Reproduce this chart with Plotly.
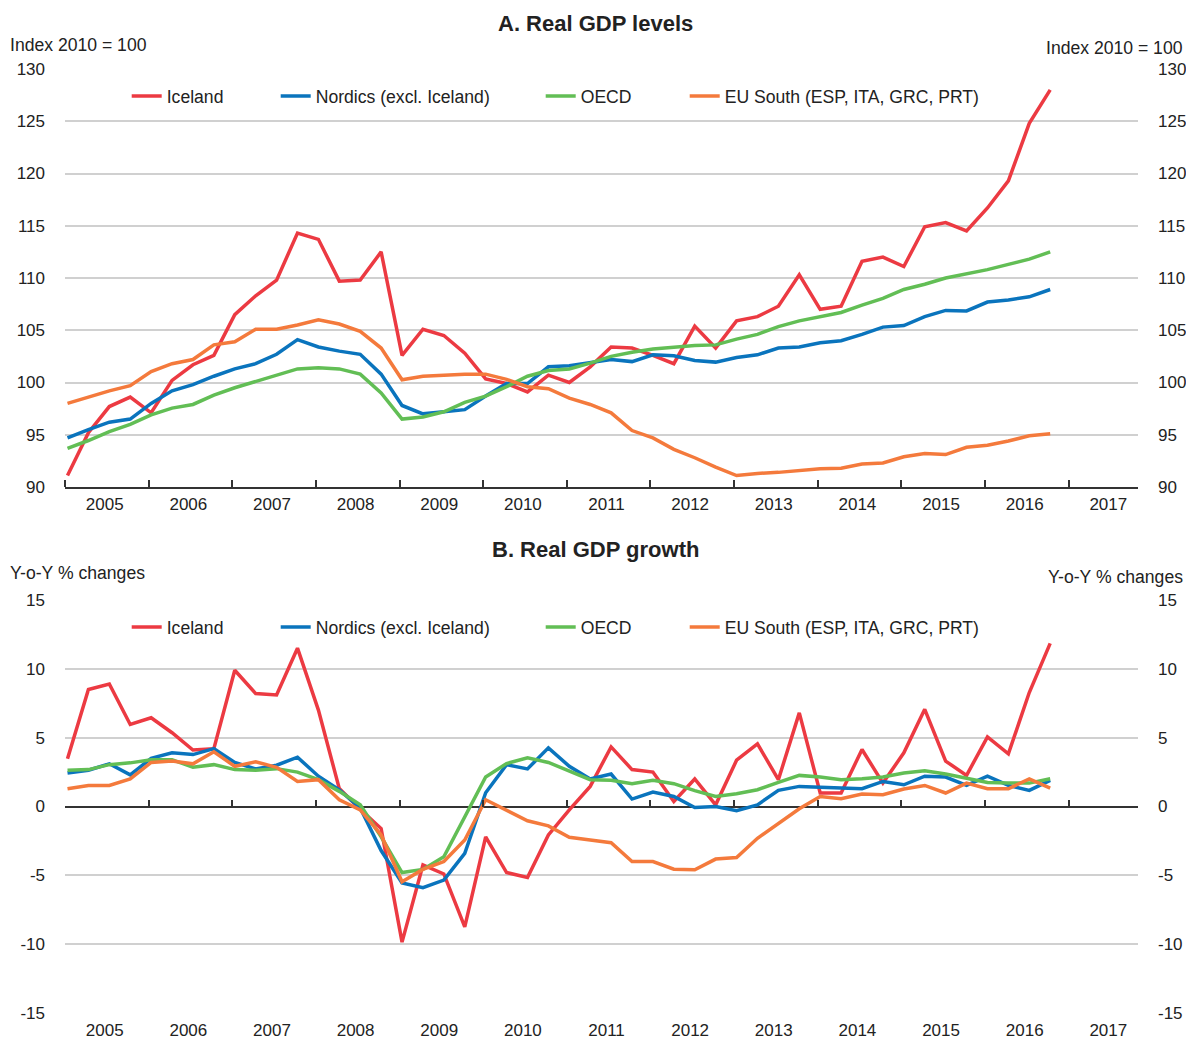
import plotly.graph_objects as go

# ---------------- data ----------------
years = list(range(2005, 2017))
quarters = [1, 2, 3, 4]

iceland_lvl = [91.1, 95.2, 97.7, 98.6,
               97.1, 100.2, 101.7, 102.6,
               106.5, 108.3, 109.8, 114.3,
               113.7, 109.7, 109.8, 112.5,
               102.6, 105.1, 104.5, 102.8,
               100.35, 99.9, 99.1, 100.7,
               100.0, 101.5, 103.4, 103.3,
               102.6, 101.8, 105.4, 103.3,
               105.9, 106.3, 107.3, 110.3,
               107.0, 107.3, 111.6, 112.0,
               111.1, 114.9, 115.3, 114.5,
               116.7, 119.3, 124.8, 128.0]
nordics_lvl = [94.7, 95.5, 96.2, 96.5,
               98.0, 99.2, 99.8, 100.6,
               101.3, 101.8, 102.7, 104.1,
               103.4, 103.0, 102.7, 100.8,
               97.8, 97.0, 97.2, 97.4,
               98.7, 99.9, 99.9, 101.5,
               101.6, 101.9, 102.2, 102.0,
               102.65, 102.55, 102.1, 101.95,
               102.4, 102.65, 103.3, 103.4,
               103.8, 104.0, 104.6, 105.3,
               105.45, 106.3, 106.9, 106.85,
               107.7, 107.9, 108.2, 108.9]
oecd_lvl = [93.7, 94.45, 95.3, 96.0,
            96.9, 97.55, 97.9, 98.8,
            99.5, 100.1, 100.65, 101.3,
            101.4, 101.3, 100.8, 99.0,
            96.5, 96.7, 97.2, 98.1,
            98.7, 99.6, 100.6, 101.15,
            101.3, 101.85, 102.5, 102.9,
            103.2, 103.4, 103.55, 103.6,
            104.15, 104.6, 105.35, 105.9,
            106.3, 106.7, 107.4, 108.05,
            108.9, 109.4, 110.0, 110.4,
            110.8, 111.3, 111.8, 112.5]
eusouth_lvl = [98.0, 98.6, 99.2, 99.7,
               101.05, 101.8, 102.2, 103.6,
               103.9, 105.1, 105.1, 105.5,
               106.0, 105.6, 104.9, 103.3,
               100.26, 100.6, 100.7, 100.8,
               100.8, 100.3, 99.6, 99.4,
               98.5, 97.9, 97.1, 95.4,
               94.7, 93.6, 92.8, 91.9,
               91.1, 91.3, 91.4, 91.6,
               91.75, 91.8, 92.2, 92.3,
               92.9, 93.2, 93.1, 93.8,
               94.0, 94.4, 94.9, 95.1]

iceland_gr = [3.46, 8.5, 8.9, 5.96,
              6.45, 5.36, 4.1, 4.2,
              9.9, 8.2, 8.1, 11.5,
              7.0, 1.3, -0.2, -1.6,
              -9.85, -4.25, -4.9, -8.75,
              -2.2, -4.8, -5.15, -2.07,
              -0.24, 1.46, 4.33, 2.68,
              2.5, 0.36, 2.0, 0.12,
              3.36, 4.55, 1.95, 6.8,
              0.98, 0.98, 4.14, 1.7,
              3.9, 7.06, 3.3, 2.26,
              5.06, 3.82, 8.28, 11.85]
nordics_gr = [2.44, 2.63, 3.1, 2.3,
              3.5, 3.9, 3.77, 4.2,
              3.2, 2.73, 3.0, 3.58,
              2.2, 1.2, -0.1, -3.2,
              -5.55, -5.9, -5.35, -3.4,
              1.0, 3.04, 2.73, 4.26,
              2.92, 2.0, 2.36, 0.54,
              1.05, 0.73, -0.07, 0.0,
              -0.3, 0.12, 1.17, 1.46,
              1.39, 1.34, 1.29, 1.82,
              1.58, 2.2, 2.14, 1.53,
              2.2, 1.53, 1.17, 1.9]
oecd_gr = [2.63, 2.68, 3.04, 3.17,
           3.4, 3.4, 2.85, 3.04,
           2.68, 2.63, 2.75, 2.5,
           1.95, 1.1, 0.12, -2.2,
           -4.8, -4.57, -3.65, -0.8,
           2.14, 3.12, 3.53, 3.2,
           2.55, 1.95, 1.9, 1.66,
           1.9, 1.66, 1.15, 0.73,
           0.93, 1.22, 1.75, 2.26,
           2.14, 1.95, 2.02, 2.14,
           2.44, 2.6, 2.36, 2.07,
           1.75, 1.7, 1.7, 2.02]
eusouth_gr = [1.29, 1.53, 1.53, 2.0,
              3.2, 3.3, 3.1, 3.97,
              2.92, 3.24, 2.85, 1.82,
              1.95, 0.49, -0.24, -2.07,
              -5.47, -4.57, -4.0, -2.43,
              0.49, -0.29, -1.04, -1.41,
              -2.24, -2.43, -2.63, -4.0,
              -4.0, -4.55, -4.6, -3.82,
              -3.7, -2.31, -1.21, -0.17,
              0.73, 0.56, 0.9, 0.85,
              1.27, 1.53, 0.98, 1.7,
              1.29, 1.29, 2.0, 1.34]

series_names = ["Iceland", "Nordics (excl. Iceland)", "OECD", "EU South (ESP, ITA, GRC, PRT)"]
colors = ["#EC3A42", "#0A74BD", "#62BE55", "#F47A3C"]
year_labels = [str(y) for y in range(2005, 2018)]
lvl_ticks = list(range(90, 131, 5))
gr_ticks = list(range(-15, 16, 5))
gr_ticktext = [str(v) for v in gr_ticks]  # plain hyphen-minus as in the reference

# quarterly positions (fractional years)
x = [y + (q - 1) / 4 + 0.03 for y in years for q in quarters]

FONT = "Liberation Sans, Arial, Helvetica, sans-serif"
TXT = "#222222"
GRID = "#D0D0D0"
AXIS = "#333333"

fig = go.Figure()

lvl = [iceland_lvl, nordics_lvl, oecd_lvl, eusouth_lvl]
gr = [iceland_gr, nordics_gr, oecd_gr, eusouth_gr]
legA = ["legend", "legend3", "legend4", "legend5"]
legB = ["legend2", "legend6", "legend7", "legend8"]
for name, c, v, lg in zip(series_names, colors, lvl, legA):
    fig.add_trace(go.Scatter(x=x, y=v, name=name, mode="lines",
                             line=dict(color=c, width=3.5),
                             xaxis="x", yaxis="y", legend=lg))
for name, c, v, lg in zip(series_names, colors, gr, legB):
    fig.add_trace(go.Scatter(x=x, y=v, name=name, mode="lines",
                             line=dict(color=c, width=3.5),
                             xaxis="x2", yaxis="y2", legend=lg))

# invisible helper traces so the mirrored right axes and the zero-line tick axis get drawn
fig.add_trace(go.Scatter(x=x, y=iceland_lvl, mode="lines", line=dict(width=0), opacity=0,
                         showlegend=False, hoverinfo="skip", xaxis="x", yaxis="y3"))
fig.add_trace(go.Scatter(x=x, y=iceland_gr, mode="lines", line=dict(width=0), opacity=0,
                         showlegend=False, hoverinfo="skip", xaxis="x2", yaxis="y4"))
fig.add_trace(go.Scatter(x=x, y=iceland_gr, mode="lines", line=dict(width=0), opacity=0,
                         showlegend=False, hoverinfo="skip", xaxis="x4", yaxis="y2"))

XR = [2005, 2017.83]
label_pos = [y + 0.475 for y in range(2005, 2018)]
year_ticks = list(range(2005, 2018))

tickfont = dict(family=FONT, size=17, color=TXT)

dA = [0.5572, 1.0]
dB = [0.0, 0.4375]

fig.update_layout(
    width=1186, height=1031,
    margin=dict(l=57, r=56, t=61, b=26, autoexpand=False),
    paper_bgcolor="white", plot_bgcolor="white",
    font=dict(family=FONT, size=18, color=TXT),
    hovermode=False,
    xaxis=dict(domain=[0, 1], anchor="y", range=XR, tickmode="array",
               tickvals=label_pos, ticktext=year_labels, ticks="", ticklen=0,
               showgrid=False, zeroline=False, showline=True, linecolor=AXIS, linewidth=2,
               tickfont=tickfont, ticklabelstandoff=1,
               minor=dict(tickmode="array", tickvals=year_ticks, ticks="inside",
                          ticklen=7, tickwidth=1.5, tickcolor=AXIS, showgrid=False)),
    yaxis=dict(domain=dA, anchor="x", range=[90, 130], tickmode="array", tickvals=lvl_ticks,
               showgrid=True, gridcolor=GRID, gridwidth=1.5, zeroline=False,
               showline=False, ticks="", tickfont=tickfont, ticklabelstandoff=19),
    yaxis3=dict(overlaying="y", side="right", anchor="x", matches="y",
                range=[90, 130], tickmode="array", tickvals=lvl_ticks,
                showgrid=False, zeroline=False, showline=False, ticks="",
                tickfont=tickfont, ticklabelstandoff=19),
    xaxis2=dict(domain=[0, 1], anchor="y2", range=XR, tickmode="array",
                tickvals=label_pos, ticktext=year_labels, ticks="", ticklen=0,
                showgrid=False, zeroline=False, showline=False,
                tickfont=tickfont, ticklabelstandoff=5),
    xaxis4=dict(overlaying="x2", anchor="free", position=(dB[0] + dB[1]) / 2,
                range=XR, matches="x2", tickmode="array", tickvals=year_ticks,
                ticks="inside", ticklen=7, tickwidth=1.5, tickcolor=AXIS,
                showticklabels=False, showgrid=False, zeroline=False, showline=False),
    yaxis2=dict(domain=dB, anchor="x2", range=[-15, 15], tickmode="array",
                tickvals=gr_ticks, ticktext=gr_ticktext,
                showgrid=True, gridcolor=GRID, gridwidth=1.5, zeroline=True,
                zerolinecolor=AXIS, zerolinewidth=2, showline=False, ticks="",
                tickfont=tickfont, ticklabelstandoff=19),
    yaxis4=dict(overlaying="y2", side="right", anchor="x2", matches="y2",
                range=[-15, 15], tickmode="array", tickvals=gr_ticks, ticktext=gr_ticktext,
                showgrid=False, zeroline=False, showline=False, ticks="",
                tickfont=tickfont, ticklabelstandoff=19),
    showlegend=True,
)

# one legend box per entry, so that each entry sits where the reference has it
text_starts = [167, 316, 581, 725]          # reference pixel where each legend label starts
leg_x = [(t - 40 - 65.3) / 1073 for t in text_starts]
legstyle = dict(orientation="h", xanchor="left", yanchor="middle",
                bgcolor="rgba(0,0,0,0)", font=dict(family=FONT, size=17.6, color=TXT),
                itemwidth=30)
for lg, lx in zip(legA, leg_x):
    fig.update_layout({lg: dict(legstyle, x=lx, y=0.9714)})
for lg, lx in zip(legB, leg_x):
    fig.update_layout({lg: dict(legstyle, x=lx, y=0.4089)})

ann = [
    dict(text="<b>A. Real GDP levels</b>", x=0.494, y=1.0477, xanchor="center", yanchor="middle",
         font=dict(family=FONT, size=22, color=TXT)),
    dict(text="Index 2010 = 100", x=-0.0534, y=1.0254, xanchor="left", yanchor="middle"),
    dict(text="Index 2010 = 100", x=1.0435, y=1.0222, xanchor="right", yanchor="middle"),
    dict(text="<b>B. Real GDP growth</b>", x=0.494, y=0.4915, xanchor="center", yanchor="middle",
         font=dict(family=FONT, size=22, color=TXT)),
    dict(text="Y-o-Y % changes", x=-0.0534, y=0.4661, xanchor="left", yanchor="middle"),
    dict(text="Y-o-Y % changes", x=1.0435, y=0.4619, xanchor="right", yanchor="middle"),
]
for a in ann:
    a.update(xref="paper", yref="paper", showarrow=False)
    a.setdefault("font", dict(family=FONT, size=17.6, color=TXT))
fig.update_layout(annotations=ann)

fig.write_html("out.html")
